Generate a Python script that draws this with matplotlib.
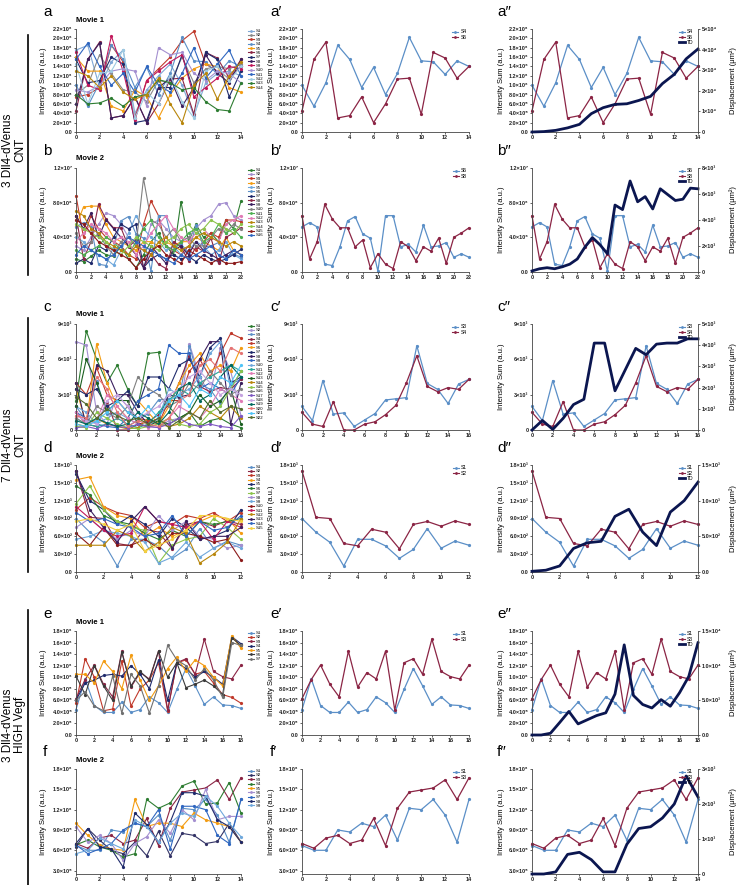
import numpy as np
import matplotlib
matplotlib.use('Agg')
import matplotlib.pyplot as plt
from matplotlib.lines import Line2D

plt.rcParams['font.family'] = ['Liberation Sans', 'DejaVu Sans']

# ---------------- DATA ----------------
# Panel a (Movie 1, 3 Dll4-dVenus CNT), x = 0..14, values x1e6
a_x = list(range(15))
a_names = ['S1', 'S2', 'S3', 'S4', 'S5', 'S6', 'S7', 'S8', 'S9', 'S10', 'S11', 'S12', 'S13', 'S14']
a_S4 = [1.0, 0.55, 1.05, 1.85, 1.55, 0.95, 1.38, 0.8, 1.25, 2.02, 1.52, 1.5, 1.23, 1.52, 1.4]
a_S6 = [0.45, 1.55, 1.92, 0.3, 0.35, 0.75, 0.2, 0.6, 1.13, 1.15, 0.38, 1.7, 1.58, 1.15, 1.4]
a_vals = [
    [1.75, 1.85, 0.95, 1.5, 1.75, 0.4, 0.9, 1.2, 1.45, 1.0, 0.35, 1.05, 1.25, 1.3, 1.2],
    [0.8, 1.0, 1.65, 1.25, 0.9, 0.85, 0.65, 1.1, 1.05, 1.6, 1.05, 1.35, 1.4, 1.35, 1.45],
    [0.75, 0.8, 0.95, 1.85, 1.5, 0.3, 1.1, 1.35, 1.6, 1.95, 2.15, 1.45, 1.3, 1.15, 1.55],
    a_S4,
    [1.6, 1.3, 1.3, 0.55, 0.45, 0.9, 0.75, 0.3, 0.8, 1.15, 1.35, 1.45, 1.4, 0.95, 0.85],
    a_S6,
    [1.55, 1.05, 1.1, 1.6, 1.45, 0.2, 0.25, 0.95, 0.95, 1.65, 0.85, 1.7, 1.55, 0.75, 1.3],
    [0.6, 1.55, 1.9, 0.3, 0.35, 0.75, 0.2, 0.95, 1.15, 0.55, 0.95, 1.65, 1.25, 1.05, 1.55],
    [1.7, 1.0, 0.9, 2.05, 1.3, 0.25, 1.1, 1.3, 1.5, 1.65, 0.75, 0.95, 1.15, 1.4, 1.35],
    [0.9, 0.85, 1.0, 1.3, 1.35, 1.3, 0.55, 1.8, 1.65, 1.7, 1.25, 1.1, 1.3, 1.25, 1.05],
    [1.55, 1.9, 1.4, 1.0, 1.25, 0.85, 1.4, 1.0, 0.85, 1.25, 1.8, 1.15, 1.45, 1.75, 1.2],
    [1.45, 0.6, 1.25, 1.3, 1.75, 0.3, 0.85, 0.6, 1.2, 0.65, 0.3, 1.3, 1.4, 1.1, 1.4],
    [0.8, 0.6, 0.62, 0.72, 0.55, 0.75, 0.8, 1.12, 1.05, 0.9, 0.95, 0.65, 0.48, 0.45, 1.05],
    [1.3, 1.2, 0.95, 1.2, 0.85, 0.7, 0.8, 1.15, 0.6, 0.2, 1.0, 1.25, 0.7, 1.2, 1.5],
]
a_colors = ['#7fa7d6', '#8a8a8a', '#c0392b', '#5b8fc7', '#f39c12', '#8b2545', '#1f2a6b',
            '#3b1f5e', '#c2185b', '#a48fd0', '#2f66c0', '#9ecae1', '#2e7d32', '#b8860b']
a_TD = [0.0, 0.02, 0.08, 0.2, 0.37, 0.89, 1.18, 1.34, 1.37, 1.53, 1.73, 2.35, 2.8, 3.55, 4.03]  # x1e4

# Panel b (Movie 2), x = 0..22, values x1e6
b_x = list(range(23))
b_names = ['S%d' % i for i in range(1, 17)]
b_S6 = [5.2, 5.7, 5.2, 0.9, 0.75, 2.9, 5.9, 6.4, 4.4, 3.9, 0.1, 6.5, 6.5, 2.9, 3.2, 2.3, 5.4, 2.9, 3.0, 3.4, 1.7, 2.1, 1.7]
b_S8 = [6.5, 1.5, 3.5, 7.8, 6.1, 5.1, 5.1, 2.9, 3.7, 0.5, 2.1, 0.9, 0.4, 3.5, 2.9, 1.3, 2.9, 2.4, 3.9, 1.0, 4.0, 4.5, 5.1]
b_vals = [
    [1.5, 1.2, 1.8, 2.5, 2.0, 1.8, 3.0, 1.5, 0.5, 2.0, 3.5, 4.5, 3.0, 2.0, 8.1, 3.5, 5.5, 4.0, 4.5, 3.5, 6.0, 5.0, 8.2],
    [3.0, 2.5, 4.0, 5.5, 6.8, 6.5, 5.5, 4.0, 3.0, 2.5, 5.5, 6.0, 5.0, 4.0, 3.5, 4.0, 5.0, 6.0, 6.5, 7.8, 8.0, 6.5, 6.0],
    [8.8, 4.0, 6.5, 5.0, 4.0, 3.5, 3.0, 2.0, 1.5, 5.5, 8.2, 6.5, 3.0, 2.5, 2.0, 3.0, 2.5, 3.5, 4.5, 4.0, 6.0, 6.0, 5.8],
    [5.3, 7.5, 7.6, 7.6, 5.5, 4.0, 3.5, 3.0, 2.5, 3.5, 3.5, 3.0, 3.5, 3.0, 3.5, 3.5, 4.0, 3.5, 3.0, 2.5, 4.0, 2.5, 2.0],
    [4.0, 3.5, 2.5, 2.0, 1.5, 0.8, 2.5, 4.5, 6.5, 5.0, 4.0, 3.5, 2.5, 3.0, 2.0, 2.5, 3.5, 3.0, 2.0, 2.5, 3.5, 2.0, 1.5],
    b_S6,
    [1.0, 1.5, 1.0, 3.0, 2.5, 4.0, 5.5, 5.0, 5.5, 0.5, 1.5, 2.0, 1.5, 2.0, 1.5, 1.8, 1.2, 2.0, 1.5, 1.2, 1.5, 2.0, 2.6],
    b_S8,
    [6.5, 5.0, 6.8, 4.0, 6.0, 5.0, 4.0, 3.0, 2.0, 0.5, 3.0, 2.0, 1.0, 2.5, 3.0, 2.0, 3.5, 2.5, 2.0, 1.5, 2.0, 2.5, 2.0],
    [4.5, 3.0, 3.5, 4.5, 3.0, 2.0, 3.5, 4.0, 3.0, 10.8, 6.0, 5.5, 4.0, 5.0, 3.5, 4.0, 3.0, 3.0, 4.0, 5.0, 4.5, 5.5, 5.0],
    [2.5, 2.0, 2.5, 3.0, 4.0, 3.5, 2.5, 2.0, 3.5, 5.0, 6.0, 4.0, 3.0, 2.5, 3.5, 4.5, 5.0, 3.5, 4.0, 5.5, 4.5, 5.0, 4.0],
    [3.5, 4.5, 5.5, 5.0, 4.5, 3.5, 4.0, 3.5, 2.0, 3.0, 4.5, 5.5, 6.5, 5.0, 4.0, 3.5, 4.5, 5.0, 4.0, 3.5, 5.5, 6.0, 6.5],
    [7.0, 6.5, 5.0, 4.5, 3.5, 3.0, 2.5, 2.0, 3.0, 2.5, 2.0, 3.5, 4.0, 3.0, 2.5, 3.0, 4.0, 4.5, 4.0, 3.5, 3.0, 3.5, 3.0],
    [5.5, 5.0, 4.5, 4.0, 3.5, 2.5, 2.0, 3.0, 4.0, 3.5, 3.0, 2.5, 3.5, 4.0, 5.0, 5.5, 4.5, 5.0, 6.0, 5.5, 5.0, 4.5, 5.5],
    [6.0, 5.5, 4.5, 3.5, 3.0, 2.5, 2.0, 1.5, 0.5, 1.5, 2.5, 3.0, 2.0, 1.5, 1.0, 2.5, 2.0, 1.5, 1.0, 1.5, 1.0, 1.0, 1.2],
    [2.0, 3.0, 2.5, 2.0, 1.5, 2.0, 3.0, 4.0, 3.5, 3.0, 2.5, 2.0, 1.5, 1.0, 2.0, 1.5, 2.0, 2.5, 3.0, 2.0, 1.5, 2.5, 2.0],
]
b_colors = ['#2e7d32', '#a48fd0', '#c0392b', '#f39c12', '#6fa8dc', '#5b8fc7', '#1f2a6b', '#8b2545',
            '#3b1f5e', '#808080', '#4caf50', '#e07bb5', '#b8860b', '#8bc34a', '#8b1a1a', '#2f66c0']
b_TD = [0.08, 0.25, 0.33, 0.25, 0.4, 0.6, 1.0, 1.9, 2.65, 2.1, 1.4, 5.15, 4.8, 7.0, 5.4, 5.8, 4.85, 6.4, 5.95, 5.5, 5.6, 6.45, 6.4]  # x1e3

# Panel c (Movie 1, 7 Dll4-dVenus CNT), x = 0..16, values x1e3
c_x = list(range(17))
c_names = ['S%d' % i for i in range(1, 23)]
c_S3 = [2.0, 0.8, 4.2, 1.35, 1.45, 0.3, 0.85, 1.4, 2.55, 2.65, 2.75, 7.15, 3.95, 3.45, 2.25, 3.9, 4.3]
c_S4 = [1.5, 0.5, 0.3, 2.4, 0.0, 0.0, 0.5, 0.7, 1.3, 2.1, 4.0, 6.3, 3.7, 3.25, 3.6, 3.45, 4.3]
c_vals = [
    [2.5, 8.4, 6.0, 4.0, 5.5, 3.5, 2.0, 6.5, 6.6, 2.0, 1.0, 1.5, 0.3, 0.8, 1.0, 0.5, 0.2],
    [7.5, 7.2, 1.5, 0.5, 3.0, 2.0, 0.5, 0.3, 0.2, 0.8, 1.0, 7.3, 4.5, 3.0, 7.0, 5.0, 1.2],
    c_S3,
    c_S4,
    [4.0, 3.0, 5.3, 3.0, 2.5, 1.5, 1.0, 0.8, 0.5, 2.5, 2.5, 5.0, 6.0, 4.5, 6.5, 8.2, 7.8],
    [3.5, 0.5, 7.3, 4.0, 2.0, 1.0, 2.5, 1.5, 0.5, 2.0, 4.0, 5.5, 6.5, 5.0, 5.5, 5.0, 7.0],
    [3.5, 3.0, 3.5, 2.0, 2.5, 3.3, 2.0, 4.5, 4.5, 3.5, 5.5, 6.0, 4.5, 7.0, 7.8, 4.0, 4.5],
    [4.0, 0.3, 5.5, 5.0, 3.0, 3.0, 1.5, 0.5, 1.0, 3.0, 2.8, 3.0, 6.0, 7.5, 7.5, 0.5, 4.0],
    [1.5, 1.0, 0.5, 0.3, 0.2, 1.0, 2.5, 3.0, 3.5, 7.2, 6.5, 6.5, 3.5, 4.0, 3.5, 3.0, 4.5],
    [2.0, 1.5, 0.5, 1.0, 1.5, 1.0, 0.5, 0.3, 1.0, 3.5, 3.0, 3.5, 4.5, 6.5, 7.5, 3.5, 5.0],
    [1.0, 0.5, 0.3, 0.5, 1.0, 0.5, 0.2, 0.5, 1.5, 2.5, 3.5, 3.0, 4.0, 4.5, 5.0, 5.5, 5.0],
    [1.5, 0.5, 0.8, 3.0, 2.0, 1.0, 0.5, 0.2, 0.5, 1.0, 2.0, 1.5, 1.0, 2.0, 3.5, 3.0, 2.5],
    [2.0, 6.0, 4.0, 1.5, 2.5, 2.5, 0.5, 0.3, 0.8, 0.5, 1.0, 1.5, 3.0, 2.0, 2.5, 3.5, 0.5],
    [0.5, 0.3, 1.0, 0.5, 0.3, 0.1, 0.2, 1.0, 0.5, 0.3, 0.5, 1.0, 2.0, 1.5, 1.0, 2.0, 1.0],
    [0.3, 0.2, 1.5, 1.0, 0.5, 0.2, 0.1, 0.3, 0.5, 1.0, 0.5, 0.3, 0.5, 1.5, 2.0, 3.5, 5.0],
    [1.0, 0.5, 2.0, 1.5, 1.0, 2.0, 4.5, 3.5, 3.0, 2.0, 2.5, 4.0, 3.5, 5.0, 4.0, 3.0, 3.5],
    [0.2, 0.3, 0.1, 0.5, 0.3, 0.2, 0.5, 0.3, 0.2, 0.5, 1.0, 0.5, 0.3, 0.5, 0.3, 0.2, 1.2],
    [1.2, 0.8, 0.5, 2.5, 3.0, 2.0, 1.0, 1.5, 2.0, 3.0, 3.5, 4.5, 5.0, 4.0, 3.0, 3.5, 3.0],
    [0.8, 0.5, 1.0, 0.6, 0.3, 0.5, 1.5, 1.0, 0.5, 1.5, 3.5, 4.0, 2.5, 3.0, 4.5, 5.5, 4.5],
    [1.2, 1.0, 4.5, 3.5, 1.5, 0.3, 0.8, 0.5, 0.3, 1.0, 2.5, 3.0, 5.5, 6.0, 5.0, 7.0, 6.5],
    [0.5, 0.3, 0.8, 1.5, 2.5, 1.5, 1.0, 2.0, 1.0, 2.5, 3.0, 2.0, 3.5, 3.0, 4.5, 4.0, 5.5],
    [2.8, 2.2, 1.0, 1.8, 1.2, 0.8, 1.0, 0.5, 1.0, 0.2, 0.8, 1.5, 1.0, 2.5, 1.5, 2.0, 1.8],
]
c_colors = ['#2e7d32', '#a48fd0', '#5b8fc7', '#8b2545', '#c0392b', '#f39c12', '#1f2a6b', '#3b1f5e',
            '#2f66c0', '#6fa8dc', '#26a69a', '#e07bb5', '#1b5e20', '#b8860b', '#8bc34a', '#808080',
            '#7e57c2', '#c5a3e0', '#00695c', '#e57373', '#4fc3f7', '#556b2f']
c_TD = [0.0, 0.45, 0.03, 0.55, 1.2, 1.45, 4.1, 4.1, 1.85, 2.85, 3.85, 3.55, 4.05, 4.1, 4.1, 4.3, 4.3]  # x1e3

# Panel d (Movie 2), x = 0..12, values x1e3
d_x = list(range(13))
d_names = ['S%d' % i for i in range(1, 16)]
d_S1 = [0.9, 0.67, 0.5, 0.1, 0.55, 0.55, 0.44, 0.23, 0.38, 0.73, 0.4, 0.52, 0.45]
d_S2 = [1.7, 0.92, 0.9, 0.48, 0.44, 0.72, 0.67, 0.39, 0.8, 0.85, 0.77, 0.86, 0.8]
d_vals = [
    d_S1,
    d_S2,
    [1.05, 1.25, 1.1, 1.0, 0.95, 0.75, 0.85, 0.8, 0.95, 0.9, 1.0, 0.85, 1.0],
    [1.55, 1.6, 1.1, 0.95, 0.9, 0.6, 0.75, 0.6, 0.7, 0.85, 0.95, 0.9, 0.65],
    [1.65, 1.2, 1.05, 0.8, 0.95, 0.8, 0.6, 0.9, 0.75, 0.55, 0.6, 0.7, 1.05],
    [1.45, 1.3, 0.95, 0.85, 0.8, 0.65, 0.55, 0.7, 0.6, 0.85, 0.8, 0.85, 0.9],
    [1.15, 1.45, 1.05, 0.85, 0.75, 0.7, 0.15, 0.45, 0.55, 0.6, 0.9, 0.75, 0.55],
    [0.75, 0.9, 0.7, 0.55, 0.7, 0.6, 0.95, 0.7, 0.85, 0.6, 0.55, 0.4, 0.45],
    [0.55, 0.6, 0.7, 0.65, 0.6, 0.5, 0.15, 0.25, 0.5, 0.25, 0.4, 0.5, 0.4],
    [0.65, 0.45, 0.75, 0.45, 0.45, 0.55, 0.4, 0.65, 0.65, 0.6, 0.5, 0.55, 0.2],
    [1.1, 0.9, 0.7, 0.6, 0.65, 1.1, 0.85, 0.8, 0.75, 0.85, 0.55, 0.85, 0.75],
    [0.45, 0.45, 0.45, 0.7, 0.6, 0.35, 0.5, 0.75, 0.65, 0.15, 0.3, 0.5, 0.9],
    [1.7, 1.05, 0.75, 0.5, 0.85, 1.1, 0.85, 0.4, 0.85, 0.55, 0.6, 0.6, 0.75],
    [1.0, 0.85, 0.9, 0.8, 0.75, 0.6, 0.65, 0.95, 0.6, 0.85, 0.7, 0.75, 0.95],
    [0.85, 0.9, 0.8, 0.7, 0.8, 0.35, 0.45, 0.55, 0.7, 0.95, 0.95, 0.9, 0.85],
]
d_colors = ['#5b8fc7', '#8b2545', '#c0392b', '#f39c12', '#1f2a6b', '#2e7d32', '#8bc34a', '#a48fd0',
            '#6fa8dc', '#8b1a1a', '#c2185b', '#b8860b', '#3b1f5e', '#2f66c0', '#f4d03f']
d_TD = [0.01, 0.025, 0.085, 0.33, 0.41, 0.43, 0.78, 0.88, 0.56, 0.37, 0.84, 1.0, 1.26]  # x1e3

# Panel e (Movie 1, 3 Dll4-dVenus HIGH Vegf), x = 0..18, values x1e6
e_x = list(range(19))
e_names = ['S1', 'S2', 'S3', 'S4', 'S5', 'S6', 'S7']
e_S1 = [0.44, 0.97, 0.51, 0.39, 0.39, 0.57, 0.39, 0.44, 0.66, 0.56, 0.39, 0.79, 1.15, 0.85, 0.53, 0.66, 0.52, 0.51, 0.46]
e_S3 = [0.63, 0.96, 1.21, 0.88, 0.66, 1.45, 0.83, 1.08, 0.97, 1.45, 0.43, 1.25, 1.32, 1.05, 1.66, 1.1, 1.01, 0.97, 1.21]
e_vals = [
    e_S1,
    [0.55, 1.32, 1.0, 0.42, 0.45, 1.28, 0.5, 0.8, 0.95, 1.25, 0.42, 1.25, 1.3, 1.05, 1.1, 0.9, 0.7, 0.65, 0.55],
    e_S3,
    [0.6, 0.9, 0.95, 1.03, 1.05, 1.02, 1.2, 1.05, 0.8, 1.3, 0.6, 1.25, 1.15, 1.0, 1.1, 1.0, 0.88, 1.7, 1.58],
    [1.05, 1.05, 0.9, 1.28, 1.1, 0.8, 1.38, 0.95, 0.6, 0.85, 1.15, 1.35, 1.1, 1.3, 1.2, 1.0, 0.85, 1.72, 1.5],
    [1.02, 0.7, 1.2, 0.85, 0.6, 1.43, 0.85, 1.1, 0.95, 1.45, 1.0, 1.25, 0.82, 0.88, 0.95, 0.85, 0.7, 1.68, 1.55],
    [0.6, 0.75, 0.5, 0.42, 1.02, 0.38, 1.05, 0.85, 0.38, 0.85, 1.55, 1.3, 1.2, 0.95, 1.15, 0.95, 0.65, 1.6, 1.55],
]
e_colors = ['#5b8fc7', '#c0392b', '#8b2545', '#1f2a6b', '#f39c12', '#3a3a3a', '#707070']
e_TD = [0.0, 0.0, 0.25, 1.8, 3.4, 1.6, 2.2, 2.8, 3.2, 5.9, 13.0, 5.7, 4.4, 3.9, 5.1, 4.15, 6.1, 8.45, 13.3]  # x1e3

# Panel f (Movie 2), x = 0..14, values x1e6
f_x = list(range(15))
f_names = ['S1', 'S2', 'S3', 'S4', 'S5', 'S6', 'S7', 'S8', 'S9']
f_S1 = [0.67, 0.6, 0.6, 0.9, 0.87, 1.0, 0.95, 1.12, 0.75, 1.22, 1.2, 1.35, 1.12, 0.72, 1.35]
f_S3 = [0.7, 0.63, 0.78, 0.82, 0.7, 0.75, 1.07, 0.67, 1.22, 1.46, 1.49, 1.52, 1.64, 1.35, 1.67]
f_vals = [
    f_S1,
    [0.65, 0.92, 0.75, 0.6, 0.55, 0.72, 0.52, 0.88, 0.52, 0.85, 0.82, 0.7, 0.73, 1.0, 0.72],
    f_S3,
    [0.68, 0.75, 0.65, 0.6, 0.5, 0.55, 1.35, 1.22, 1.3, 1.55, 1.62, 1.28, 1.3, 1.6, 1.15],
    [1.0, 0.82, 0.68, 0.62, 0.6, 1.35, 0.95, 1.0, 1.0, 0.95, 1.15, 1.05, 1.0, 0.95, 0.72],
    [0.95, 0.72, 0.82, 0.7, 0.45, 0.7, 0.8, 1.05, 0.85, 1.2, 1.05, 1.5, 1.05, 1.1, 1.1],
    [0.68, 0.55, 0.62, 0.7, 0.9, 1.0, 0.95, 1.2, 0.62, 1.25, 1.25, 1.2, 0.82, 0.7, 1.35],
    [0.7, 0.92, 0.65, 0.62, 0.35, 1.15, 0.98, 0.72, 1.02, 1.45, 1.45, 1.4, 1.05, 0.95, 0.72],
    [0.55, 0.6, 0.78, 0.7, 0.62, 1.05, 0.95, 0.72, 1.0, 1.15, 1.1, 1.4, 1.25, 1.0, 0.8],
]
f_colors = ['#5b8fc7', '#333366', '#8b2545', '#2e7d32', '#f39c12', '#a48fd0', '#2f66c0', '#1f2a6b', '#6fa8dc']
f_TD = [0.0, 0.0, 0.06, 0.56, 0.62, 0.41, 0.06, 0.06, 0.85, 1.3, 1.35, 1.6, 2.0, 2.8, 2.2]  # x1e3

# ---------------- LAYOUT / STYLE ----------------
W, H = 736, 885
fig = plt.figure(figsize=(W / 100, H / 100), dpi=100)

BLUE = '#5b8fc7'
MAROON = '#8b2545'
TDC = '#0b1650'
SUP = str.maketrans('0123456789-', '⁰¹²³⁴⁵⁶⁷⁸⁹⁻')


def sci(v, dec):
    if v == 0:
        return '0.0' if dec else '0'
    e = int(np.floor(np.log10(v) + 1e-9))
    m = v / 10 ** e
    return f"{m:.{dec}f}×10{str(e).translate(SUP)}"


def rect(l, t, r, b):
    return [l / W, 1 - b / H, (r - l) / W, (b - t) / H]


cols = [(76, 241), (302, 469), (532, 698)]
rows = [(29, 132), (168, 272), (324, 430), (465, 572), (631, 735), (769, 874)]
ylabx = [-0.176, -0.16, -0.163]


def style(ax, ylim, yticks, dec, xmax, col, scale):
    ax.set_xlim(0, xmax)
    ax.set_ylim(ylim[0] * scale, ylim[1] * scale)
    ax.set_yticks([t * scale for t in yticks])
    ax.set_yticklabels([sci(t * scale, dec) for t in yticks])
    ax.set_xticks(range(0, xmax + 1, 2))
    for s in ['top', 'right']:
        ax.spines[s].set_visible(False)
    for s in ['left', 'bottom']:
        ax.spines[s].set_linewidth(0.6)
        ax.spines[s].set_color('#444444')
    ax.tick_params(labelsize=4, length=1.5, width=0.5, pad=1, colors='#222222')
    for lab in ax.get_xticklabels() + ax.get_yticklabels():
        lab.set_fontweight('bold')
    ax.set_ylabel('Intensity Sum (a.u.)', fontsize=5.5)
    ax.yaxis.set_label_coords(ylabx[col], 0.5)


def plot_series(ax, x, vals, colors, scale, lw=0.8, ms=1.3):
    for v, c in zip(vals, colors):
        ax.plot(x, [q * scale for q in v], color=c, lw=lw, marker='o', ms=ms, clip_on=False)


panels = [
    # x, vals, colors, names, scale, ylim, yticks, dec, S-blue, S-maroon, names2, TD, tdscale, tdlim, tdticks, tddec
    (a_x, a_vals, a_colors, a_names, 1e6, (0, 2.2), [0, 0.2, 0.4, 0.6, 0.8, 1.0, 1.2, 1.4, 1.6, 1.8, 2.0, 2.2], 1,
     a_S4, a_S6, ('S4', 'S6'), a_TD, 1e4, (0, 5), [0, 1, 2, 3, 4, 5], 0, 'Movie 1', 'a'),
    (b_x, b_vals, b_colors, b_names, 1e6, (0, 12), [0, 4, 8, 12], 1,
     b_S6, b_S8, ('S6', 'S8'), b_TD, 1e3, (0, 8), [0, 2, 4, 6, 8], 0, 'Movie 2', 'b'),
    (c_x, c_vals, c_colors, c_names, 1e3, (0, 9), [0, 3, 6, 9], 0,
     c_S3, c_S4, ('S3', 'S4'), c_TD, 1e3, (0, 5), [0, 1, 2, 3, 4, 5], 0, 'Movie 1', 'c'),
    (d_x, d_vals, d_colors, d_names, 1e3, (0, 1.8), [0, 0.3, 0.6, 0.9, 1.2, 1.5, 1.8], 1,
     d_S1, d_S2, ('S1', 'S2'), d_TD, 1e3, (0, 1.5), [0, 0.5, 1.0, 1.5], 1, 'Movie 2', 'd'),
    (e_x, e_vals, e_colors, e_names, 1e6, (0, 1.8), [0, 0.2, 0.4, 0.6, 0.8, 1.0, 1.2, 1.4, 1.6, 1.8], 1,
     e_S1, e_S3, ('S1', 'S3'), e_TD, 1e3, (0, 15), [0, 5, 10, 15], 1, 'Movie 1', 'e'),
    (f_x, f_vals, f_colors, f_names, 1e6, (0.25, 1.8), [0.3, 0.6, 0.9, 1.2, 1.5, 1.8], 1,
     f_S1, f_S3, ('S1', 'S3'), f_TD, 1e3, (0, 3), [0, 1, 2, 3], 0, 'Movie 2', 'f'),
]

for r, p in enumerate(panels):
    (x, vals, colors, names, sc, ylim, yticks, dec, sb, sm, n2, td, tsc, tlim, tticks, tdec, movie, letter) = p
    top, bot = rows[r]
    xmax = x[-1]

    # column 1: all series
    ax = fig.add_axes(rect(cols[0][0], top, cols[0][1], bot))
    plot_series(ax, x, vals, colors, sc)
    style(ax, ylim, yticks, dec, xmax, 0, sc)
    handles = [Line2D([], [], color=c, lw=0.8, marker='o', ms=1.0) for c in colors]
    ax.legend(handles, names, loc='upper left', bbox_to_anchor=(1.03, 1.02), fontsize=3.1, frameon=False,
              handlelength=1.3, labelspacing=0.08, borderpad=0, handletextpad=0.4)
    fig.text(cols[0][0] / W, 1 - (top - 9) / H, movie, fontsize=5.5, fontweight='bold', va='center', ha='left')
    fig.text(43 / W, 1 - (top - 17) / H, letter, fontsize=11, va='center', ha='left')

    # column 2: two selected series
    ax2 = fig.add_axes(rect(cols[1][0], top, cols[1][1], bot))
    ax2.plot(x, [q * sc for q in sb], color=BLUE, lw=0.9, marker='o', ms=1.3, clip_on=False)
    ax2.plot(x, [q * sc for q in sm], color=MAROON, lw=0.9, marker='o', ms=1.3, clip_on=False)
    style(ax2, ylim, yticks, dec, xmax, 1, sc)
    h2 = [Line2D([], [], color=BLUE, lw=0.8, marker='o', ms=1.0),
          Line2D([], [], color=MAROON, lw=0.8, marker='o', ms=1.0)]
    ax2.legend(h2, list(n2), loc='upper right', bbox_to_anchor=(1.0, 1.02), fontsize=3.6, frameon=False,
               handlelength=1.2, labelspacing=0.05, borderpad=0, handletextpad=0.4)
    fig.text(270 / W, 1 - (top - 17) / H, letter + '′', fontsize=11, va='center', ha='left')

    # column 3: two series + total displacement
    ax3 = fig.add_axes(rect(cols[2][0], top, cols[2][1], bot))
    ax3.plot(x, [q * sc for q in sb], color=BLUE, lw=0.9, marker='o', ms=1.3, clip_on=False)
    ax3.plot(x, [q * sc for q in sm], color=MAROON, lw=0.9, marker='o', ms=1.3, clip_on=False)
    style(ax3, ylim, yticks, dec, xmax, 2, sc)
    tw = ax3.twinx()
    tw.plot(x, [q * tsc for q in td], color=TDC, lw=2.0, clip_on=False)
    tw.set_xlim(0, xmax)
    tw.set_ylim(tlim[0] * tsc, tlim[1] * tsc)
    tw.set_yticks([t * tsc for t in tticks])
    tw.set_yticklabels([sci(t * tsc, tdec) for t in tticks])
    for s in ['top', 'left', 'bottom']:
        tw.spines[s].set_visible(False)
    tw.spines['right'].set_linewidth(0.6)
    tw.spines['right'].set_color('#444444')
    tw.tick_params(labelsize=4, length=1.5, width=0.5, pad=1, colors='#222222')
    for lab in tw.get_yticklabels():
        lab.set_fontweight('bold')
    tw.set_ylabel('Displacement (μm²)', fontsize=5.5)
    tw.yaxis.set_label_coords(1.19, 0.5)
    h3 = h2 + [Line2D([], [], color=TDC, lw=2.0)]
    tw.legend(h3, list(n2) + ['TD'], loc='upper right', bbox_to_anchor=(0.99, 1.02), fontsize=3.6,
              frameon=False, handlelength=1.2, labelspacing=0.05, borderpad=0, handletextpad=0.4)
    fig.text(497 / W, 1 - (top - 17) / H, letter + '″', fontsize=11, va='center', ha='left')

# group labels with vertical bars
groups = [('3 Dll4-dVenus\nCNT', 35, 275, 150), ('7 Dll4-dVenus\nCNT', 318, 572, 445),
          ('3 Dll4-dVenus\nHIGH Vegf', 610, 885, 725)]
for txt, y0, y1, yc in groups:
    fig.add_artist(Line2D([28 / W, 28 / W], [1 - y0 / H, 1 - y1 / H], color='black', lw=1.2))
    fig.text(14 / W, 1 - yc / H, txt, rotation=90, fontsize=8.5, ha='center', va='center',
             multialignment='center', linespacing=1.05)

fig.savefig('out.png', dpi=100)
